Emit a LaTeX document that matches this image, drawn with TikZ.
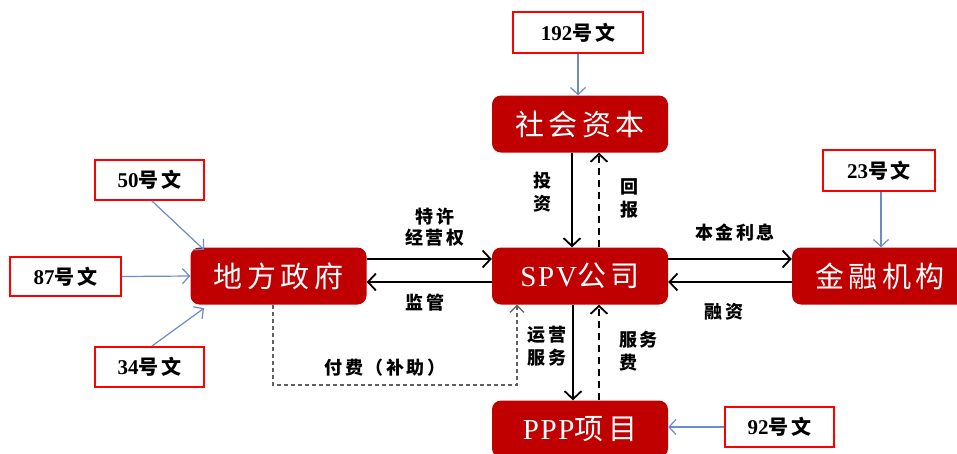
\documentclass[tikz,border=0pt]{standalone}
\usepackage{fontspec}
\setmainfont{Liberation Serif}
\newfontfamily\cjk[LetterSpace=14]{Noto Sans CJK SC}
\newfontfamily\boxcjk[LetterSpace=16]{Noto Sans CJK SC}
\newfontfamily\latsp[LetterSpace=6]{Liberation Serif}
\usetikzlibrary{arrows.meta}
\definecolor{boxred}{HTML}{C00000}
\definecolor{citered}{HTML}{FF0000}
\definecolor{citeblue}{HTML}{6A8CC7}
\definecolor{dgrey}{HTML}{606060}
\begin{document}
\begin{tikzpicture}[x=1pt,y=-1pt,
  mainbox/.style={fill=boxred, rounded corners=9pt, minimum width=176pt, minimum height=57pt, text=white, inner sep=0pt, font=\fontsize{29}{30}\selectfont},
  cite/.style={draw=citered, line width=2pt, fill=white, minimum width=109pt, minimum height=40pt, inner sep=0pt, font=\bfseries\fontsize{21}{22}\selectfont},
  lbl/.style={inner sep=0pt, align=center, font=\cjk\bfseries\fontsize{18}{23}\selectfont},
  blk/.style={line width=1.8pt, -{Straight Barb[length=8pt,width=17pt]}},
  dsh/.style={blk, dash pattern=on 7pt off 5pt},
  blue/.style={draw=citeblue, line width=1.2pt, -{Straight Barb[length=7pt,width=15pt]}},
  gdsh/.style={draw=dgrey, line width=1.1pt, dash pattern=on 4pt off 3pt, -{Straight Barb[length=7pt,width=14pt]}}
]
\useasboundingbox (0,0) rectangle (957,453);
\fill[white] (0,0) rectangle (957,453);

% main boxes
\node[mainbox] (she) at (580,124) {\boxcjk 社会资本};
\node[mainbox] (spv) at (580,276) {\latsp SPV\boxcjk 公司};
\node[mainbox] (gov) at (278.5,276) {\boxcjk 地方政府};
\node[mainbox] (fin) at (880,276) {\boxcjk 金融机构};
\node[mainbox] (ppp) at (580,429) {\latsp PPP\boxcjk 项目};

% citation boxes
\node[cite, minimum width=130pt, minimum height=41pt] (c192) at (578,32.5) {192\cjk\fontsize{20}{22}\selectfont 号文};
\node[cite] (c50) at (149.5,180) {50\cjk\fontsize{20}{22}\selectfont 号文};
\node[cite, minimum width=111pt, minimum height=39pt] (c87) at (65.5,276.5) {87\cjk\fontsize{20}{22}\selectfont 号文};
\node[cite] (c34) at (149.5,367) {34\cjk\fontsize{20}{22}\selectfont 号文};
\node[cite, minimum width=112pt, minimum height=41pt] (c23) at (879,170.5) {23\cjk\fontsize{20}{22}\selectfont 号文};
\node[cite] (c92) at (779.5,427) {92\cjk\fontsize{20}{22}\selectfont 号文};

% blue citation arrows
\draw[blue] (c192.south) -- (c192.south |- she.north);
\draw[blue] ([xshift=2.5pt]c50.south) -- ([xshift=-74.5pt,yshift=-2.5pt]gov.north);
\draw[blue] (c87.east) -- (gov.west);
\draw[blue] ([xshift=2.5pt]c34.north) -- ([xshift=-74.5pt,yshift=-3.5pt]gov.south);
\draw[blue] ([xshift=2pt]c23.south) -- ([xshift=1pt]fin.north);
\draw[blue] (c92.west) -- (c92.west -| ppp.east);

% black flows
\draw[blk] ([xshift=-8pt]she.south) -- ([xshift=-8pt]spv.north);
\draw[dsh] ([xshift=19pt]spv.north) -- ([xshift=19pt]she.south);
\draw[blk] ([yshift=17pt]gov.east) -- ([yshift=17pt]spv.west);
\draw[blk] ([yshift=-6pt]spv.west) -- ([yshift=-6pt]gov.east);
\draw[blk] ([yshift=17pt]spv.east) -- ([yshift=17pt]fin.west);
\draw[blk] ([yshift=-6pt]fin.west) -- ([yshift=-6pt]spv.east);
\draw[blk] ([xshift=-7pt]spv.south) -- ([xshift=-7pt]ppp.north);
\draw[dsh] ([xshift=19pt]ppp.north) -- ([xshift=19pt]spv.south);

% grey dashed payment path
\coordinate (p1) at (273,385);
\coordinate (p2) at (517,385);
\draw[gdsh] ([xshift=-5.5pt]gov.south) -- (p1) -- (p2) -- ([xshift=-63pt]spv.south);

% labels
\node[lbl] (l1) at (542,192.5) {投\\资};
\node[lbl] (l2) at (629,198.5) {回\\报};
\node[lbl, font=\cjk\bfseries\fontsize{18}{21}\selectfont] (l3) at (435,227.5) {特许\\经营权};
\node[lbl] (l4) at (425,303) {监管};
\node[lbl] (l5) at (735,233) {本金利息};
\node[lbl] (l6) at (724,312) {融资};
\node[lbl] (l7) at (547,346) {运营\\服务};
\node[lbl, anchor=west, align=left] (l8) at (619,351) {服务\\费};
\node[lbl] (l9) at (385,368) {付费（补助）};
\end{tikzpicture}
\end{document}
